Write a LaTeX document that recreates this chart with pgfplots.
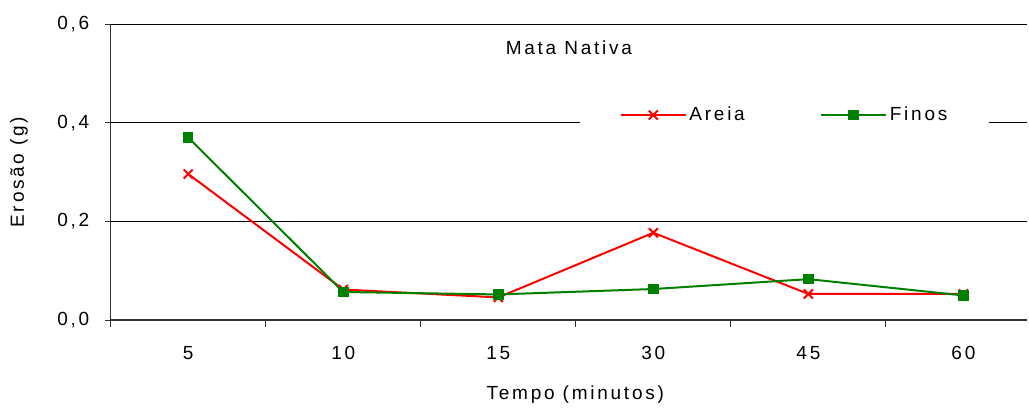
\documentclass[border=0pt]{standalone}
\usepackage{pgfplots}
\pgfplotsset{compat=1.18}
\usepackage{fontspec}
\setmainfont{Liberation Sans}[LetterSpace=14.5]
\definecolor{xlred}{RGB}{255,0,0}
\definecolor{xlgreen}{RGB}{0,128,0}
\newcommand{\fs}{\fontsize{14.25}{17}\selectfont}
\begin{document}
\begin{tikzpicture}
\begin{axis}[
  scale only axis, width=687pt, height=222pt,
  xmin=-0.5, xmax=5.41, ymin=0, ymax=0.6,
  axis lines*=left,
  axis line style={black!80, line width=1pt},
  xtick={0,1,2,3,4,5}, xticklabels={5,10,15,30,45,60},
  minor xtick={-0.5,0.5,1.5,2.5,3.5,4.5},
  ytick={0,0.2,0.4,0.6},
  tick align=outside,
  major x tick style={draw=none},
  minor x tick style={black!80, line width=0.75pt},
  ytick style={black!80, line width=0.75pt},
  minor tick length=5.25pt,
  major tick length=4.5pt,
  ymajorgrids,
  major grid style={black, line width=0.6pt},
  /pgf/number format/.cd, use comma, fixed, fixed zerofill, precision=1, assume math mode=true,
  /pgfplots/.cd,
  tick label style={font=\fs},
  xticklabel style={anchor=base, yshift=-25pt},
  yticklabel style={anchor=east, xshift=-8pt},
  xlabel={Tempo (minutos)},
  xlabel style={font=\fs, at={(axis description cs:0.507,-0.267)}, anchor=base},
  ylabel={Erosão (g)},
  ylabel style={font=\fs, at={(axis description cs:-0.1,0.5)}, anchor=center},
  title={Mata Nativa},
  title style={font=\fs, at={(axis description cs:0.5,0.869)}, anchor=base},
  legend columns=2,
  legend style={font=\fs, draw=none, fill=white, at={(axis description cs:0.5123,0.6926)}, anchor=west, inner xsep=29.5pt, inner ysep=6pt,
    /tikz/every even column/.append style={column sep=54.5pt}},
  legend image code/.code={\draw[mark repeat=2,mark phase=2,#1] plot coordinates {(0pt,0pt) (24.4pt,0pt) (48.75pt,0pt)};},
]
\addplot[xlred, line width=1.5pt, mark=x, mark size=4.8pt, mark options={line width=1.5pt}] coordinates {
  (0,0.296) (1,0.062) (2,0.046) (3,0.177) (4,0.053) (5,0.053)};
\addlegendentry{Areia}
\addplot[xlgreen, line width=1.5pt, mark=square*, mark size=3.2pt] coordinates {
  (0,0.370) (1,0.057) (2,0.052) (3,0.063) (4,0.083) (5,0.050)};
\addlegendentry{Finos}
\coordinate (ll) at (rel axis cs:0,0);
\coordinate (ur) at (rel axis cs:1,1);
\end{axis}
\pgfresetboundingbox
\path ([xshift=-83pt,yshift=-68.25pt]ll) rectangle ([xshift=1.5pt,yshift=18pt]ur);
\end{tikzpicture}
\end{document}
